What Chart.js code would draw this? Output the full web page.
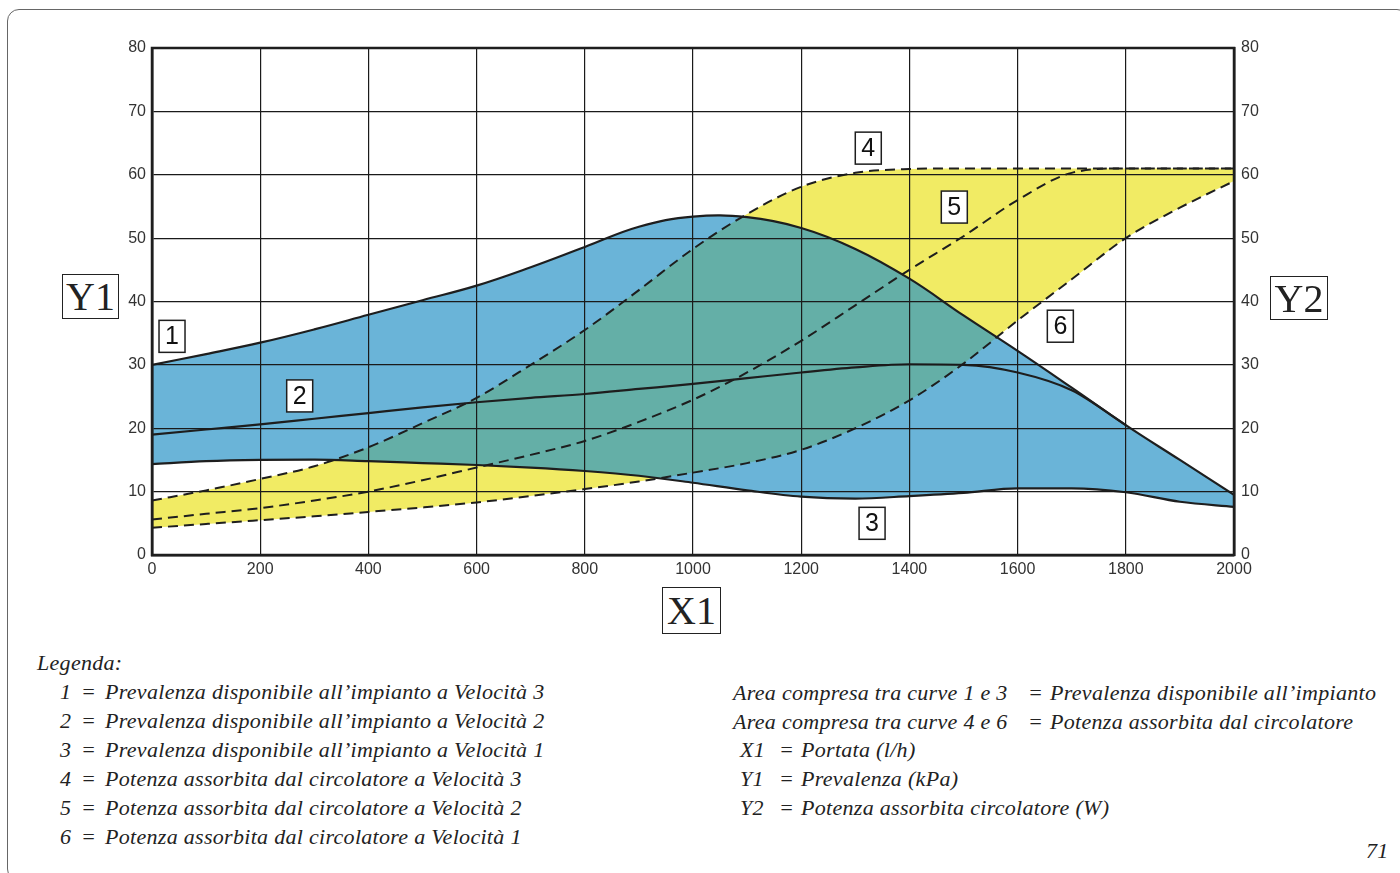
<!DOCTYPE html>
<html>
<head>
<meta charset="utf-8">
<script src="https://cdn.jsdelivr.net/npm/chart.js@4.4.1/dist/chart.umd.min.js"></script>
<style>
  body { margin: 0; width: 1400px; height: 873px; overflow: hidden; background: #fff; position: relative; }
  #frame { position: absolute; left: 7px; top: 9px; width: 1400px; height: 870px; border: 1px solid #666; border-radius: 12px; }
  #wrap { position: absolute; left: 100px; top: 30px; width: 1190px; height: 570px; }
  .tag { position: absolute; border: 1.5px solid #222; font-family: "Liberation Serif", serif; font-size: 40px;
         color: #222; display: flex; align-items: center; justify-content: center; box-sizing: border-box; background: #fff; }
  .leg { position: absolute; font-family: "Liberation Serif", serif; font-style: italic; font-size: 22px;
         letter-spacing: 0.3px; line-height: 24px; color: #222; white-space: pre; }
</style>
</head>
<body>
<div id="frame"></div>
<div id="wrap"><canvas id="pumpChart" width="1190" height="570"></canvas></div>

<div class="tag" style="left:62px;top:274px;width:57px;height:45px;">Y1</div>
<div class="tag" style="left:1270px;top:276px;width:58px;height:44px;">Y2</div>
<div class="tag" style="left:662px;top:587px;width:59px;height:47px;">X1</div>

<div id="legend"></div>

<script>
// flow rate (l/h)
const flow = [0, 100, 200, 300, 400, 500, 600, 700, 800, 900, 1000,
              1100, 1200, 1300, 1400, 1500, 1600, 1700, 1800, 1900, 2000];

// head available (kPa) - curves 1, 2, 3
const head3 = [30.0, 31.7, 33.5, 35.6, 37.9, 40.2, 42.5, 45.4, 48.6, 51.8, 53.4,
               53.3, 51.6, 48.3, 43.6, 37.8, 32.2, 26.4, 20.5, 15.0, 9.5];
const head2 = [19.0, 19.8, 20.6, 21.5, 22.4, 23.3, 24.1, 24.8, 25.4, 26.2, 27.0,
               27.9, 28.8, 29.6, 30.1, 30.0, 28.8, 26.0, 20.5, null, null];
const head1 = [14.35, 14.8, 15.0, 15.05, 14.8, 14.5, 14.2, 13.8, 13.25, 12.5, 11.4,
               10.2, 9.2, 8.9, 9.3, 9.8, 10.5, 10.5, 9.9, 8.4, 7.6];

// absorbed power (W) - curves 4, 5, 6
const power3 = [8.6, 10.2, 12.0, 14.0, 17.0, 20.8, 24.8, 30.0, 35.5, 41.8, 48.3,
                53.8, 58.1, 60.3, 60.9, 61, 61, 61, 61, 61, 61];
const power2 = [5.6, 6.5, 7.4, 8.6, 10.0, 11.8, 13.8, 15.8, 18.0, 21.0, 24.5,
                28.8, 33.8, 39.4, 45.0, 50.3, 56.0, 60.3, 61, 61, 61];
const power1 = [4.3, 4.9, 5.5, 6.1, 6.8, 7.5, 8.3, 9.3, 10.4, 11.6, 13.0,
                14.5, 16.6, 20.0, 24.4, 30.2, 37.0, 43.5, 50.0, 54.8, 59.0];

// curve number boxes (placed in data units)
const markerText = ['1', '2', '3', '4', '5', '6'];
const markerX = [37, 273, 1331, 1324, 1483, 1679];
const markerY = [34.5, 25.1, 5.0, 64.2, 54.9, 36.1];

const legendLeft = [
  ['1', 'Prevalenza disponibile all\u2019impianto a Velocità 3'],
  ['2', 'Prevalenza disponibile all\u2019impianto a Velocità 2'],
  ['3', 'Prevalenza disponibile all\u2019impianto a Velocità 1'],
  ['4', 'Potenza assorbita dal circolatore a Velocità 3'],
  ['5', 'Potenza assorbita dal circolatore a Velocità 2'],
  ['6', 'Potenza assorbita dal circolatore a Velocità 1']
];
const legendArea = [
  ['Area compresa tra curve 1 e 3', 'Prevalenza disponibile all\u2019impianto'],
  ['Area compresa tra curve 4 e 6', 'Potenza assorbita dal circolatore']
];
const legendAxes = [
  ['X1', 'Portata (l/h)'],
  ['Y1', 'Prevalenza (kPa)'],
  ['Y2', 'Potenza assorbita circolatore (W)']
];

const BLUE = '#6ab4d8';
const YELLOW = '#f1eb64';
const TEAL = '#64afa7';
const INK = '#1e1e1e';

function points(values) {
  return flow.map((x, i) => ({ x: x, y: values[i] }));
}

// --- legend text ---
const legend = document.getElementById('legend');
function addText(text, left, top) {
  const el = document.createElement('div');
  el.className = 'leg';
  el.style.left = left + 'px';
  el.style.top = top + 'px';
  el.textContent = text;
  legend.appendChild(el);
}
addText('Legenda:', 37, 651);
legendLeft.forEach((row, i) => {
  const top = 680 + i * 29;
  addText(row[0], 60, top);
  addText('=', 81, top);
  addText(row[1], 105, top);
});
legendArea.forEach((row, i) => {
  const top = 681 + i * 29;
  addText(row[0], 733, top);
  addText('=', 1028, top);
  addText(row[1], 1050, top);
});
legendAxes.forEach((row, i) => {
  const top = 738 + i * 29;
  addText(row[0], 740, top);
  addText('=', 779, top);
  addText(row[1], 801, top);
});
addText('71', 1366, 839);

// --- clip helpers for the overlapping area ---
function clipBelow(ctx, line, a) {
  ctx.beginPath();
  line.path(ctx);
  ctx.lineTo(a.right, a.bottom);
  ctx.lineTo(a.left, a.bottom);
  ctx.closePath();
  ctx.clip();
}
function clipAbove(ctx, line, a) {
  ctx.beginPath();
  line.path(ctx);
  ctx.lineTo(a.right, a.top);
  ctx.lineTo(a.left, a.top);
  ctx.closePath();
  ctx.clip();
}

const overlapPlugin = {
  id: 'overlap',
  beforeDatasetsDraw(chart) {
    const ctx = chart.ctx;
    const a = chart.chartArea;
    const line = i => {
      const l = chart.getDatasetMeta(i).dataset;
      l.updateControlPoints(a, 'x');
      return l;
    };
    ctx.save();
    clipBelow(ctx, line(0), a);
    clipAbove(ctx, line(2), a);
    clipBelow(ctx, line(3), a);
    clipAbove(ctx, line(5), a);
    ctx.fillStyle = TEAL;
    ctx.fillRect(a.left, a.top, a.width, a.height);
    ctx.restore();
  },
  afterDraw(chart) {
    const ctx = chart.ctx;
    const a = chart.chartArea;
    const xs = chart.scales.x;
    const ys = chart.scales.y;
    ctx.save();
    // frame of the plot
    ctx.strokeStyle = INK;
    ctx.lineWidth = 2.5;
    ctx.strokeRect(a.left, a.top, a.width, a.height);
    // numbered boxes
    ctx.font = '25px "Liberation Sans", Arial, sans-serif';
    ctx.textAlign = 'center';
    ctx.textBaseline = 'middle';
    markerText.forEach((t, i) => {
      const cx = xs.getPixelForValue(markerX[i]);
      const cy = ys.getPixelForValue(markerY[i]);
      ctx.fillStyle = '#fff';
      ctx.fillRect(cx - 13, cy - 16, 26, 32);
      ctx.lineWidth = 1.5;
      ctx.strokeRect(cx - 13, cy - 16, 26, 32);
      ctx.fillStyle = '#111';
      ctx.fillText(t, cx, cy + 1);
    });
    ctx.restore();
  }
};

const tickFont = { family: '"Liberation Sans", Arial, sans-serif', size: 16 };
const gridStyle = { color: '#1a1a1a', lineWidth: 1.2, drawTicks: false, z: 1 };
const plain = v => String(v);

const solid = (data, extra) => Object.assign({
  data: points(data), borderColor: INK, borderWidth: 2.2, pointRadius: 0, yAxisID: 'y'
}, extra);
const dashed = (data, extra) => Object.assign({
  data: points(data), borderColor: INK, borderWidth: 2, borderDash: [10, 6], pointRadius: 0, yAxisID: 'y2'
}, extra);

new Chart(document.getElementById('pumpChart'), {
  type: 'line',
  data: {
    datasets: [
      solid(head3, { fill: 2, backgroundColor: BLUE, cubicInterpolationMode: 'default', tension: 0.4 }),
      solid(head2, { fill: false }),
      solid(head1, { fill: false }),
      dashed(power3, { fill: 5, backgroundColor: YELLOW }),
      dashed(power2, { fill: false }),
      dashed(power1, { fill: false })
    ]
  },
  options: {
    responsive: false,
    animation: false,
    layout: { padding: { top: 18 } },
    elements: { line: { cubicInterpolationMode: 'monotone' } },
    plugins: {
      legend: { display: false },
      tooltip: { enabled: false },
      filler: { drawTime: 'beforeDatasetsDraw' }
    },
    scales: {
      x: {
        type: 'linear', min: 0, max: 2000,
        ticks: { stepSize: 200, font: tickFont, color: '#333', padding: 5, maxRotation: 0, callback: plain },
        grid: gridStyle,
        border: { color: INK, width: 2.5, z: 1 },
        afterFit: s => { s.height = 45; }
      },
      y: {
        position: 'left', min: 0, max: 80,
        ticks: { stepSize: 10, font: tickFont, color: '#333', padding: 6, callback: plain },
        grid: gridStyle,
        border: { color: INK, width: 2.5, z: 1 },
        afterFit: s => { s.width = 52; }
      },
      y2: {
        position: 'right', min: 0, max: 80,
        ticks: { stepSize: 10, font: tickFont, color: '#333', padding: 7, callback: plain },
        grid: { drawOnChartArea: false, drawTicks: false },
        border: { color: INK, width: 2.5, z: 1 },
        afterFit: s => { s.width = 56; }
      }
    }
  },
  plugins: [overlapPlugin]
});
</script>
</body>
</html>
